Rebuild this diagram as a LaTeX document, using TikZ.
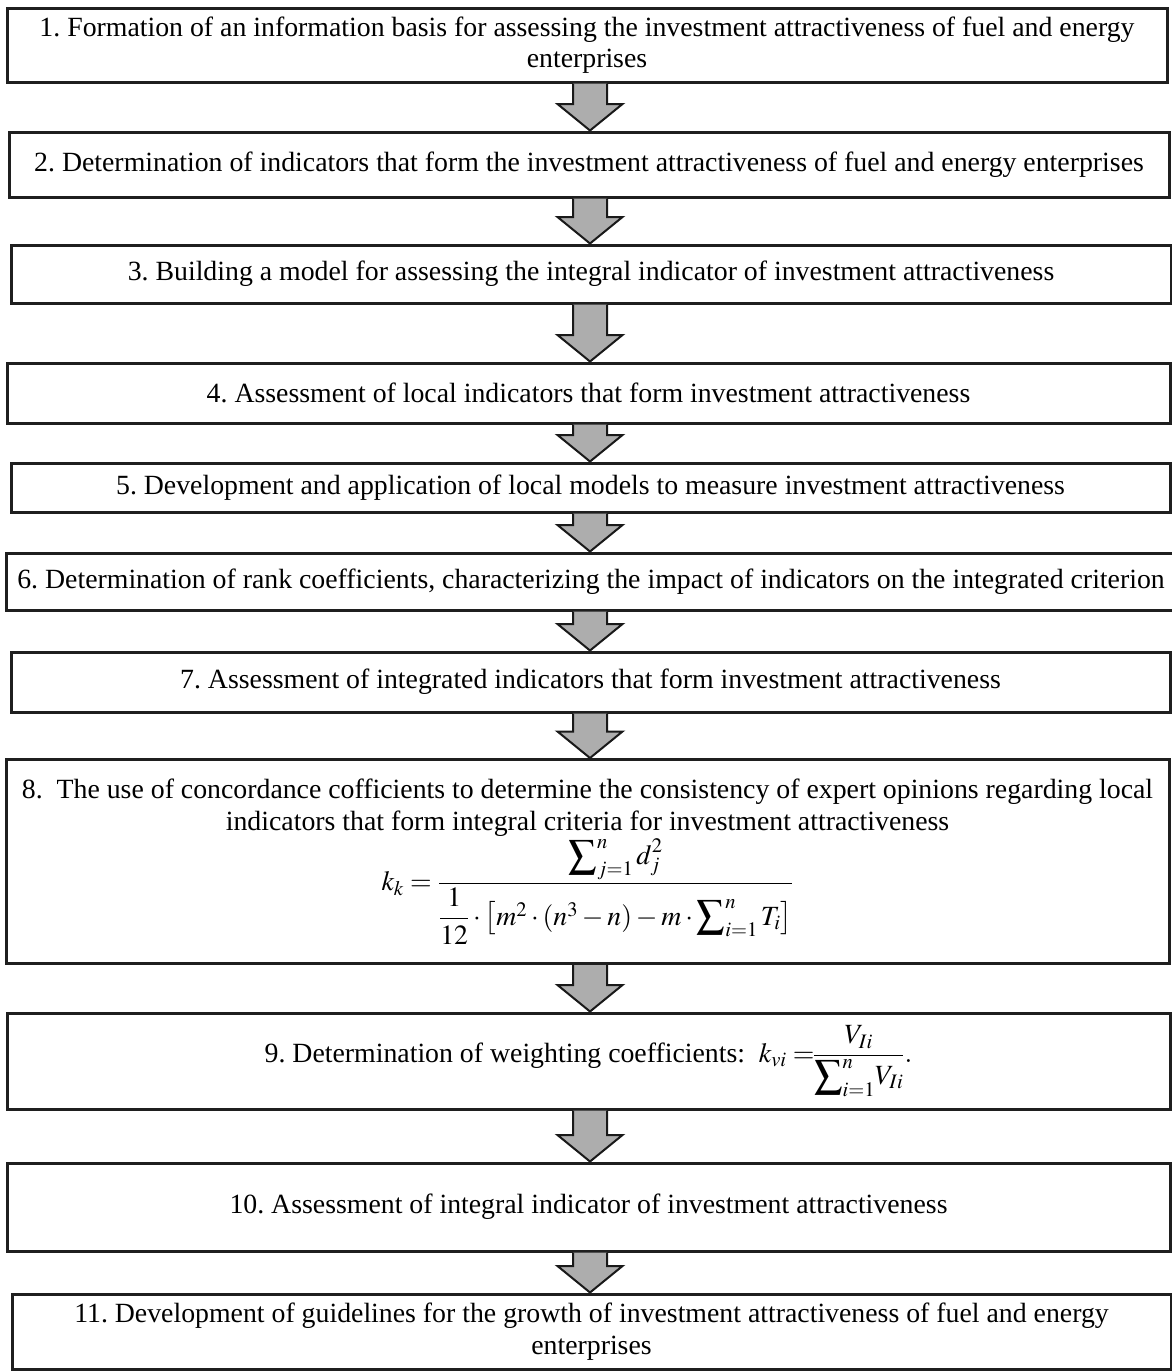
\documentclass[tikz,border=0pt]{standalone}
\usepackage{amsmath}
\usepackage{mathptmx}
\usepackage{fontspec}
\setmainfont{Liberation Serif}
\usetikzlibrary{calc}
\tikzset{
  box/.style={draw=black!88, line width=3pt, fill=white, inner sep=0pt, outer sep=0pt,
    align=center, font=\fontsize{27.8}{31.5}\selectfont\frenchspacing},
  arrowbody/.style={fill=black!32, draw=black!90, line width=2pt, line join=miter},
}
\newcommand{\flowarrow}[2]{%
  \path[arrowbody] let \p1=(#1.south), \p2=(#2.north) in
    (573,\y1-1.5) -- (573,\y2+28) -- (557.5,\y2+28) -- (590,\y2+1.5)
    -- (622.5,\y2+28) -- (607,\y2+28) -- (607,\y1-1.5);}
\begin{document}
\begin{tikzpicture}[x=1pt,y=1pt]
\useasboundingbox (0,0) rectangle (1172,-1371);
\fill[white] (0,0) rectangle (1172,-1371);

\node[box, minimum width=1160, minimum height=74] (b1) at (587,-45)
  {1. Formation of an information basis for assessing the investment attractiveness of fuel and energy\\enterprises};
\node[box, minimum width=1160, minimum height=65] (b2) at (589,-164.5)
  {2. Determination of indicators that form the investment attractiveness of fuel and energy enterprises};
\node[box, minimum width=1160, minimum height=58] (b3) at (591,-274)
  {3. Building a model for assessing the integral indicator of investment attractiveness};
\node[box, minimum width=1163, minimum height=60] (b4) at (588.5,-393)
  {4. Assessment of local indicators that form investment attractiveness};
\node[box, minimum width=1159, minimum height=49] (b5) at (590.5,-487.5)
  {5. Development and application of local models to measure investment attractiveness};
\node[box, minimum width=1170, minimum height=57] (b6) at (591,-581.5)
  {6. Determination of rank coefficients, characterizing the impact of indicators on the integrated criterion};
\node[box, minimum width=1159, minimum height=60] (b7) at (590.5,-682)
  {7. Assessment of integrated indicators that form investment attractiveness};
\node[box, minimum width=1163, minimum height=204] (b8) at (587.5,-861.5)
  {8.~~The use of concordance cofficients to determine the consistency of expert opinions regarding local\\
   indicators that form integral criteria for investment attractiveness\\[2pt]
   $\displaystyle k_k = \frac{\displaystyle\sum\nolimits_{j=1}^{n} d_j^2}{\dfrac{1}{12}\cdot\left[m^2\cdot(n^3-n)-m\cdot\displaystyle\sum\nolimits_{i=1}^{n}T_i\right]}$};
\node[box, minimum width=1163, minimum height=96] (b9) at (588.5,-1061)
  {9. Determination of weighting coefficients:~~$\displaystyle k_{vi}\mathrel{=}\mkern-5mu\frac{V_{Ii}}{\displaystyle\sum\nolimits_{i=1}^{n}\!V_{Ii}}.$};
\node[box, minimum width=1163, minimum height=88] (b10) at (588.5,-1207)
  {10. Assessment of integral indicator of investment attractiveness};
\node[box, minimum width=1159, minimum height=75] (b11) at (591.5,-1331.5)
  {11. Development of guidelines for the growth of investment attractiveness of fuel and energy\\enterprises};

\flowarrow{b1}{b2}
\flowarrow{b2}{b3}
\flowarrow{b3}{b4}
\flowarrow{b4}{b5}
\flowarrow{b5}{b6}
\flowarrow{b6}{b7}
\flowarrow{b7}{b8}
\flowarrow{b8}{b9}
\flowarrow{b9}{b10}
\flowarrow{b10}{b11}
\end{tikzpicture}
\end{document}
